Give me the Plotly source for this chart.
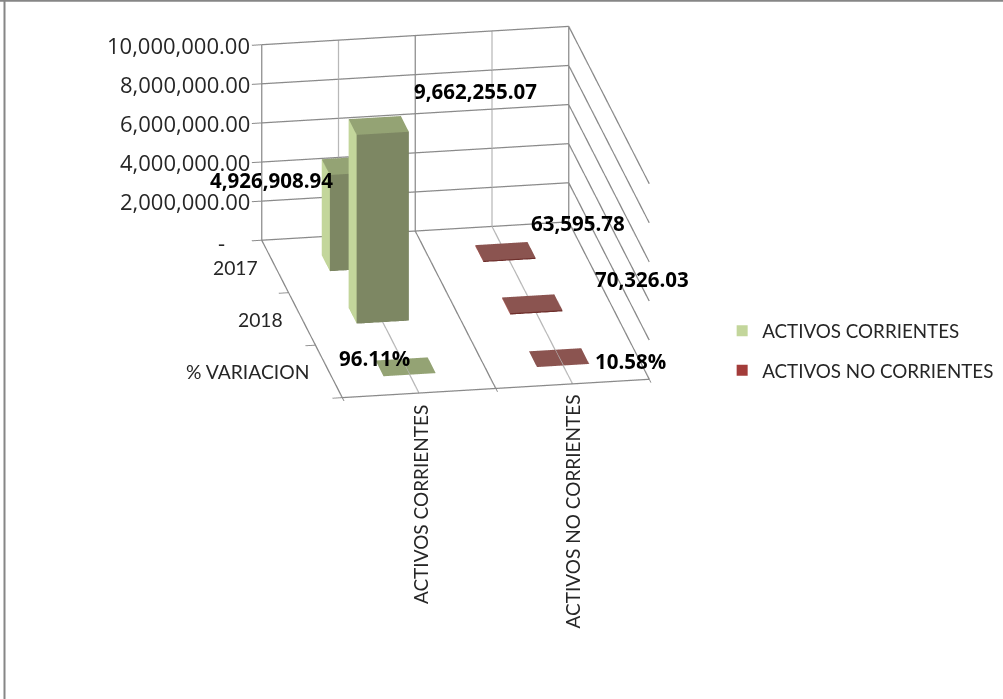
import plotly.graph_objects as go

# ---- data ----
series_names = ["ACTIVOS CORRIENTES", "ACTIVOS NO CORRIENTES"]
row_labels = ["2017", "2018", "% VARIACION"]
activos_corrientes = [4926908.94, 9662255.07, 0.9611]
activos_no_corrientes = [63595.78, 70326.03, 0.1058]
corrientes_labels = ["4,926,908.94", "9,662,255.07", "96.11%"]
no_corrientes_labels = ["63,595.78", "70,326.03", "10.58%"]
z_ticks = [0, 2000000, 4000000, 6000000, 8000000, 10000000]
z_tick_labels = ["-", "2,000,000.00", "4,000,000.00", "6,000,000.00", "8,000,000.00", "10,000,000.00"]
x_edges = [0, 1, 2]
x_centres = [0.5, 1.5]

FONT = "Lato, Carlito, Calibri, sans-serif"
NUM_FONT = "'Open Sans', sans-serif"
GRID = "#8a8a8a"
LIGHT = "#b8b8b8"
TEXT = "#262626"
HALF_X, HALF_Y = 0.17, 0.15
green = dict(top="#94A374", front="#7D8763", left="#C3D69B", legend="#C3D69B")
red = dict(top="#8B5450", front="#6E2F2C", left="#B86A66", legend="#A33C3A")
X_MAX, Y_MAX, Z_MAX = 2, 3, z_ticks[-1]


def bar(cx, cy, h, pal, name):
    x0, x1, y0, y1 = cx - HALF_X, cx + HALF_X, cy - HALF_Y, cy + HALF_Y
    xs = [x0, x1, x1, x0, x0, x1, x1, x0]
    ys = [y0, y0, y1, y1, y0, y0, y1, y1]
    zs = [0, 0, 0, 0, h, h, h, h]
    i = [4, 4, 3, 3, 0, 0]
    j = [5, 6, 2, 6, 3, 7]
    k = [6, 7, 6, 7, 7, 4]
    fc = [pal["top"], pal["top"], pal["front"], pal["front"], pal["left"], pal["left"]]
    return go.Mesh3d(x=xs, y=ys, z=zs, i=i, j=j, k=k, facecolor=fc, flatshading=True,
                     lighting=dict(ambient=1, diffuse=0, specular=0, fresnel=0, roughness=1),
                     hoverinfo="skip", showlegend=False, name=name)


def wall_lines(x_values, z_values, front_edge=False):
    gx, gy, gz = [], [], []
    for x in x_values:                       # verticals on back wall, continuing over the floor
        gx += [x, x, x, None]
        gy += [0, 0, Y_MAX, None]
        gz += [Z_MAX, 0, 0, None]
    for z in z_values:                       # horizontals round back wall and right wall
        gx += [0, X_MAX, X_MAX, None]
        gy += [0, 0, Y_MAX, None]
        gz += [z, z, z, None]
    if front_edge:
        gx += [0, X_MAX]
        gy += [Y_MAX, Y_MAX]
        gz += [0, 0]
    return gx, gy, gz


fig = go.Figure()
for n, (values, pal, cx) in enumerate(((activos_corrientes, green, 0.5), (activos_no_corrientes, red, 1.5))):
    for r, v in enumerate(values):
        fig.add_trace(bar(cx, r + 0.5, v, pal, series_names[n]))

lx, ly, lz = wall_lines(x_centres, [])
fig.add_trace(go.Scatter3d(x=lx, y=ly, z=lz, mode="lines", line=dict(color=LIGHT, width=2.5),
                           hoverinfo="skip", showlegend=False))
gx, gy, gz = wall_lines(x_edges, z_ticks, front_edge=True)
fig.add_trace(go.Scatter3d(x=gx, y=gy, z=gz, mode="lines", line=dict(color=GRID, width=2.5),
                           hoverinfo="skip", showlegend=False))
# legend entries
for n, pal in zip(series_names, (green, red)):
    fig.add_trace(go.Scatter3d(x=[None], y=[None], z=[None], mode="markers", name=n, legendgroup=n,
                               marker=dict(symbol="square", size=11, color=pal["legend"])))

ann = []
def a(x, y, z, text, xs=0, ys=0, bold=False, anchor="center", angle=0, family=FONT, size=19):
    ann.append(dict(x=x, y=y, z=z, text=f"<b>{text}</b>" if bold else text, showarrow=False,
                    xanchor=anchor, yanchor="middle", xshift=xs, yshift=ys, textangle=angle,
                    font=dict(family=family, size=size, color="#000000" if bold else TEXT)))

for t, lab in zip(z_ticks, z_tick_labels):
    a(0, 0, t, lab, xs=-35 if t == 0 else -10, ys=-2 if t == 0 else 0, anchor="right", family=NUM_FONT, size=22)
row_shift = [(-15, -1), (-17, -1), (-18, 0)]
for r, lab in enumerate(row_labels):
    a(0, r + 0.5, 0, lab, xs=row_shift[r][0], ys=row_shift[r][1], anchor="right", size=19.3)
a(0.5, 3, 0, series_names[0], xs=1, ys=-112, angle=-90)
a(1.5, 3, 0, series_names[1], xs=0, ys=-128, angle=-90)
c_shift = [(-80, -14), (97, 34), (-31, 9)]
n_shift = [(73, 28), (110, 25), (71, -3)]
for r, lab in enumerate(corrientes_labels):
    a(0.5, r + 0.5, activos_corrientes[r], lab, xs=c_shift[r][0], ys=c_shift[r][1], bold=True, family=NUM_FONT, size=20.5)
for r, lab in enumerate(no_corrientes_labels):
    a(1.5, r + 0.5, activos_no_corrientes[r], lab, xs=n_shift[r][0], ys=n_shift[r][1], bold=True, family=NUM_FONT, size=20.5)

axis = dict(showbackground=False, showticklabels=False, showspikes=False, zeroline=False, title=dict(text=""),
            showgrid=False, linecolor=GRID, linewidth=2, tickcolor=GRID, tickwidth=2, ticklen=10)

SCALE = 1.47
R = 2.5
fig.update_layout(
    width=1003, height=699, margin=dict(l=0, r=0, t=0, b=0), paper_bgcolor="white",
    font=dict(family=FONT, size=18.8, color=TEXT),
    showlegend=True,
    legend=dict(x=0.72, y=0.4985, xanchor="left", yanchor="middle", tracegroupgap=12, bgcolor="rgba(0,0,0,0)"),
    scene=dict(
        domain=dict(x=[0, 911 / 1003], y=[(699 - 424) / 699, 1]),
        aspectmode="manual", aspectratio=dict(x=1 * SCALE, y=1.5 * SCALE, z=0.6675 * SCALE),
        camera=dict(projection=dict(type="orthographic"), up=dict(x=0, y=0, z=1), center=dict(x=0, y=0, z=0),
                    eye=dict(x=-0.162 * R, y=-0.926 * R, z=0.342 * R)),
        xaxis=dict(axis, range=[0, X_MAX], tickvals=x_edges, ticks="outside"),
        yaxis=dict(axis, range=[Y_MAX, 0], tickvals=[0, 1, 2, 3], ticks="outside"),
        zaxis=dict(axis, range=[0, Z_MAX], tickvals=z_ticks, ticks="outside"),
        annotations=ann,
    ),
    shapes=[dict(type="line", xref="paper", yref="paper", x0=4.5 / 1003, x1=4.5 / 1003, y0=0, y1=1, line=dict(color="#868686", width=2)),
            dict(type="line", xref="paper", yref="paper", x0=0, x1=1, y0=0.999, y1=0.999, line=dict(color="#868686", width=2))],
)
fig.write_html("out.html", config={"displayModeBar": False}, post_script="document.body.style.margin='0';")
